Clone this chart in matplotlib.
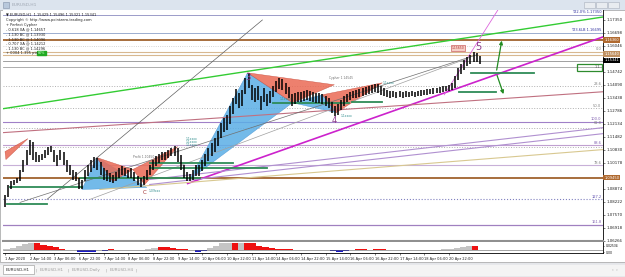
import numpy as np
import matplotlib.pyplot as plt
from matplotlib.patches import Rectangle, Polygon

W, H = 625, 277

# EURUSD 2-hour highs / lows
highs = [1.0855, 1.0905, 1.0925, 1.0935, 1.0945, 1.0985, 1.1035, 1.1085, 1.1135, 1.1125,
         1.1075, 1.1060, 1.1065, 1.1085, 1.1100, 1.1105, 1.1085, 1.1060, 1.1085, 1.1075,
         1.1035, 1.1010, 1.0985, 1.0975, 1.0945, 1.0935, 1.0985, 1.1010, 1.1035, 1.1050,
         1.1045, 1.1025, 1.0995, 1.0985, 1.0970, 1.0960, 1.0975, 1.0995, 1.1005, 1.0995,
         1.0985, 1.0995, 1.0975, 1.0955, 1.0945, 1.0955, 1.0985, 1.1010, 1.1035, 1.1055,
         1.1065, 1.1075, 1.1075, 1.1085, 1.1095, 1.1105, 1.1095, 1.1060, 1.1010, 1.0975,
         1.0965, 1.0985, 1.1010, 1.1010, 1.1035, 1.1065, 1.1095, 1.1120, 1.1145, 1.1180,
         1.1220, 1.1245, 1.1260, 1.1305, 1.1345, 1.1390, 1.1370, 1.1385, 1.1445, 1.1470,
         1.1410, 1.1395, 1.1405, 1.1355, 1.1395, 1.1365, 1.1380, 1.1405, 1.1430, 1.1445,
         1.1440, 1.1420, 1.1400, 1.1365, 1.1370, 1.1375, 1.1375, 1.1380, 1.1385, 1.1380,
         1.1375, 1.1370, 1.1370, 1.1365, 1.1355, 1.1345, 1.1325, 1.1305, 1.1315, 1.1335,
         1.1355, 1.1365, 1.1375, 1.1380, 1.1385, 1.1390, 1.1395, 1.1400, 1.1405, 1.1410,
         1.1415, 1.1415, 1.1405, 1.1395, 1.1385, 1.1380, 1.1380, 1.1375, 1.1380, 1.1375,
         1.1380, 1.1375, 1.1380, 1.1375, 1.1380, 1.1385, 1.1385, 1.1390, 1.1390, 1.1395,
         1.1395, 1.1400, 1.1405, 1.1405, 1.1410, 1.1420, 1.1455, 1.1495, 1.1515, 1.1535,
         1.1550, 1.1560, 1.1575, 1.1570, 1.1555]
lows = [1.0795, 1.0845, 1.0885, 1.0905, 1.0915, 1.0925, 1.0975, 1.1010, 1.1060, 1.1035,
        1.1025, 1.1025, 1.1035, 1.1045, 1.1060, 1.1075, 1.1025, 1.1005, 1.1035, 1.1010,
        1.0975, 1.0960, 1.0935, 1.0925, 1.0885, 1.0885, 1.0925, 1.0955, 1.0975, 1.0995,
        1.0985, 1.0960, 1.0935, 1.0925, 1.0920, 1.0915, 1.0925, 1.0945, 1.0960, 1.0955,
        1.0945, 1.0945, 1.0925, 1.0905, 1.0895, 1.0905, 1.0935, 1.0960, 1.0985, 1.1005,
        1.1020, 1.1035, 1.1035, 1.1045, 1.1055, 1.1055, 1.1025, 1.0985, 1.0945, 1.0925,
        1.0925, 1.0935, 1.0955, 1.0955, 1.0980, 1.1005, 1.1030, 1.1055, 1.1075, 1.1105,
        1.1145, 1.1175, 1.1185, 1.1215, 1.1265, 1.1315, 1.1295, 1.1305, 1.1365, 1.1395,
        1.1335, 1.1325, 1.1335, 1.1285, 1.1325, 1.1305, 1.1320, 1.1350, 1.1375, 1.1390,
        1.1385, 1.1365, 1.1345, 1.1305, 1.1315, 1.1325, 1.1325, 1.1330, 1.1335, 1.1330,
        1.1325, 1.1320, 1.1320, 1.1315, 1.1305, 1.1295, 1.1270, 1.1255, 1.1260, 1.1285,
        1.1305, 1.1325, 1.1335, 1.1345, 1.1345, 1.1350, 1.1355, 1.1360, 1.1365, 1.1370,
        1.1375, 1.1370, 1.1360, 1.1355, 1.1350, 1.1345, 1.1350, 1.1345, 1.1350, 1.1345,
        1.1350, 1.1350, 1.1355, 1.1350, 1.1355, 1.1355, 1.1360, 1.1360, 1.1365, 1.1365,
        1.1370, 1.1370, 1.1375, 1.1380, 1.1380, 1.1385, 1.1395, 1.1435, 1.1465, 1.1485,
        1.1505, 1.1515, 1.1525, 1.1525, 1.1515]
bar_hours = np.arange(len(highs)) * 2

# indicator (4-hour bins): grey area and red/blue histogram
ind_gray = [0.1, 0.3, 0.5, 0.8, 1.0, 0, 0, 0, 0, 0, 0, 0, 0, 0, 0, 0, 0, 0, 0, 0,
            0, 0, 0, 0.2, 0.3, 0.3, 0, 0, 0, 0, 0, 0, 0, 0.3, 0.6, 0.9, 1.0, 0, 1.0, 0,
            0, 0, 0, 0, 0, 0, 0, 0, 0, 0, 0, 0, 0, 0, 0, 0, 0, 0, 0, 0,
            0, 0, 0, 0, 0, 0, 0, 0, 0, 0, 0, 0.1, 0.2, 0.3, 0.45, 0.6, 0, 0]
ind_hist = [0, 0, 0, 0, 0, 1.0, 0.7, 0.5, 0.4, 0.1, 0, 0, -0.2, -0.3, -0.2, 0, -0.1, 0.1, 0.05, 0,
            0, 0, 0, 0, 0, 0.4, 0.4, 0.3, 0.2, 0.1, 0, -0.2, -0.1, 0, 0, 0, 0, 1.0, 0, 1.0,
            0.9, 0.6, 0.4, 0.3, 0.15, 0.2, 0.2, 0.05, 0, 0, 0, 0, 0, -0.15, -0.2, -0.1, 0, 0.2, 0.2, 0,
            0.15, 0.15, 0, 0, 0, 0, 0, 0, 0, 0, 0, 0, 0, 0, 0, 0, 0.6, 0]
ind_hours = np.arange(len(ind_gray)) * 4 - 1

price_ticks = [1.17350, 1.16698, 1.16046, 1.15394, 1.14742, 1.14090, 1.13438, 1.12786,
               1.12134, 1.11482, 1.10830, 1.10178, 1.09526, 1.08874, 1.08222, 1.07570,
               1.06918, 1.06266]
# labels hidden behind the coloured price boxes
hidden_ticks = [1.15394, 1.09526]
time_labels = ["1 Apr 2020", "2 Apr 14:00", "3 Apr 06:00", "6 Apr 22:00", "7 Apr 14:00",
               "8 Apr 06:00", "8 Apr 22:00", "9 Apr 14:00", "10 Apr 06:00", "10 Apr 22:00",
               "11 Apr 14:00", "14 Apr 06:00", "14 Apr 22:00", "15 Apr 14:00", "16 Apr 06:00",
               "16 Apr 22:00", "17 Apr 14:00", "18 Apr 06:00", "20 Apr 22:00"]

# chart objects: horizontal levels, trend lines (hour, price pairs)
level_prices = [1.1760, 1.1670, 1.1635, 1.1605, 1.1575, 1.1560, 1.1530, 1.1500, 1.1405,
                1.1295, 1.1225, 1.1195, 1.1110, 1.1100, 1.1010, 1.0945, 1.0835, 1.0705]
level_colors = ['#8c8cc0', '#8ca0c8', '#a0622d', '#c8c8c8', '#d8b890', '#d8b890', '#909090',
                '#a0a0a0', '#b0b0b0', '#b0b0b0', '#a080c8', '#b0b0b0', '#c0a0d0', '#b0b0b0',
                '#c8b0d8', '#a0622d', '#8080c0', '#a080c0']
level_styles = ['-', '-', '-', ':', '-', '-', '-', '-', ':', ':', '-', ':', '-', ':', '-', '-', ':', '-']
level_widths = [0.6, 0.6, 1.3, 0.6, 0.8, 0.8, 0.6, 0.6, 0.7, 0.7, 0.8, 0.7, 0.8, 0.7, 0.8, 1.3, 0.8, 0.9]

trend_lines = [
    ((-1.3, 1.1290), (388, 1.1750)),   # green channel
    ((118.5, 1.0915), (388, 1.1650)),  # magenta
    ((285, 1.1360), (320.6, 1.1795)),  # steep magenta
    ((-1.3, 1.1170), (388, 1.1375)),   # rosy
    ((61.5, 1.0885), (388, 1.1085)),   # tan
    ((93.9, 1.0935), (388, 1.1195)),   # lavender
    ((93.9, 1.0910), (388, 1.1165)),   # lavender
    ((9.7, 1.0820), (306, 1.1560)),    # grey to point 5
    ((55, 1.0835), (301, 1.1545)),     # grey to point 5
    ((27.2, 1.0835), (167, 1.1735)),   # grey steep
]
trend_colors = ['#33cc33', '#cc22cc', '#dd66dd', '#c07080', '#d8c890', '#b090d0', '#b090d0',
                '#707070', '#a0a0a0', '#606060']
trend_widths = [1.0, 1.2, 0.6, 0.8, 0.8, 0.8, 0.8, 0.5, 0.5, 0.5]

green_segments = [((302.5, 343.3), 1.1470), ((294.7, 318.7), 1.1375), ((225.4, 244.8), 1.1325),
                  ((94, 147.7), 1.1020), ((94, 169.7), 1.0995), ((48.6, 126.3), 1.0945),
                  ((3.2, 49.9), 1.0895), ((1.3, 27.2), 1.0810), ((173.6, 223.5), 1.1320)]

blue_tris = [[(49.9, 1.0885), (59.6, 1.1045), (92.0, 1.0895)],
             [(119.8, 1.0935), (157.4, 1.1470), (186.5, 1.1320)],
             [(186.5, 1.1320), (215.0, 1.1270), (206.0, 1.1360)]]
red_tris = [[(59.6, 1.1045), (69.9, 1.0925), (82.9, 1.0985)],
            [(82.9, 1.0985), (90.7, 1.0910), (112.0, 1.1100)],
            [(0.0, 1.1075), (14.9, 1.1140), (0.6, 1.1035)],
            [(157.4, 1.1470), (213.7, 1.1410), (186.5, 1.1320)],
            [(206.0, 1.1360), (215.0, 1.1270), (244.8, 1.1420)]]

fig = plt.figure(figsize=(6.25, 2.77), dpi=100)
fig.patch.set_facecolor('#eceef1')


def px_axes(x0, y0, x1, y1):
    return fig.add_axes([x0 / W, 1 - y1 / H, (x1 - x0) / W, (y1 - y0) / H])


def px_rect(x0, y0, x1, y1, **kw):
    fig.add_artist(Rectangle((x0 / W, 1 - y1 / H), (x1 - x0) / W, (y1 - y0) / H,
                             transform=fig.transFigure, **kw))


def px_text(x, y, s, **kw):
    fig.text(x / W, 1 - y / H, s, **kw)


# window chrome
px_rect(0, 0, 625, 10, color='#dce4ee', zorder=0)
px_rect(3, 2, 9, 8, facecolor='#b8c8dc', edgecolor='#8090a8', lw=0.4)
px_text(12, 5, 'EURUSD,H1', fontsize=3.2, color='#a0a8b4', va='center')
for bx in (584, 596, 608):
    px_rect(bx, 2, bx + 11, 8, facecolor='#e8ecf0', edgecolor='#a8b0bc', lw=0.4)
px_rect(0, 262, 625, 277, color='#e4e6ea', zorder=0)
px_rect(0, 265, 625, 275, color='#f4f4f4', zorder=0)
px_rect(3, 265, 34, 274, facecolor='white', edgecolor='#909090', lw=0.4)
tab_names = ['EURUSD,H1', 'EURUSD,H1', 'EURUSD,Daily', 'EURUSD,H4']
tab_x = [6, 40, 72, 110]
for tx, name in zip(tab_x, tab_names):
    px_text(tx, 270, name, fontsize=3, color='#303030' if tx == 6 else '#a0a0a0', va='center')
for sx in (36, 68, 106, 136):
    px_text(sx, 270, '|', fontsize=3, color='#a0a0a0', va='center')
px_text(612, 270, '‹  ›', fontsize=3, color='#808080', va='center')
px_rect(0, 10, 625, 262, facecolor='white', edgecolor='#a0a0a0', lw=0.5, zorder=0)

# main price chart
ax = px_axes(3, 10, 603, 241)
ax.set_xlim(-1.3, 388)
ax.set_ylim(1.1835 - 241 / 2000, 1.1835 - 10 / 2000)
ax.set_facecolor('white')

for p, c, ls, lw in zip(level_prices, level_colors, level_styles, level_widths):
    ax.axhline(p, color=c, ls=ls, lw=lw, zorder=1)

for tri in blue_tris:
    ax.add_patch(Polygon(tri, closed=True, facecolor='#5aaee6', edgecolor='#3c8cd0', lw=0.3, alpha=0.85, zorder=2))
for tri in red_tris:
    ax.add_patch(Polygon(tri, closed=True, facecolor='#ea6a55', edgecolor='#c04030', lw=0.3, alpha=0.85, zorder=2))

for ((x0, y0), (x1, y1)), c, lw in zip(trend_lines, trend_colors, trend_widths):
    ax.plot([x0, x1], [y0, y1], color=c, lw=lw, zorder=3)

for (x0, x1), p in green_segments:
    ax.plot([x0, x1], [p, p], color='#2e8b57', lw=1.3, zorder=3)

ax.vlines(bar_hours, lows, highs, color='black', lw=1.1, zorder=4)

# green projection arrows
ax.annotate('', xy=(322.6, 1.1645), xytext=(318.7, 1.1470),
            arrowprops=dict(arrowstyle='-|>', color='#228b22', lw=0.9, mutation_scale=5))
ax.annotate('', xy=(324.0, 1.1350), xytext=(318.7, 1.1470),
            arrowprops=dict(arrowstyle='-|>', color='#228b22', lw=0.9, mutation_scale=5))
ax.add_patch(Rectangle((371.1, 1.1480), 16.2, 0.0035, fill=False, edgecolor='#2e8b2e', lw=0.9, zorder=5))
ax.text(386, 1.1497, '1.1', fontsize=2.5, color='#505050', ha='right', va='center', zorder=6)

# pattern labels
ax.text(157.4, 1.1445, '3', fontsize=6, color='#8b3a8b', ha='center', va='center', zorder=6)
ax.text(213.7, 1.1230, '4', fontsize=6, color='#8b3a8b', ha='center', va='center', zorder=6)
ax.text(307.0, 1.1600, '5', fontsize=7, color='#8b3a8b', ha='center', va='center', zorder=6)
ax.text(90.7, 1.0870, 'C', fontsize=4, color='#a03030', ha='center', va='center', zorder=6)
ax.text(93, 1.0875, '1.09xxx', fontsize=2.2, color='#2a8a8a', ha='left', va='center', zorder=6)
for tx, ty in [(117, 1.1140), (117, 1.1125), (117, 1.1110), (245, 1.1420), (218, 1.1255), (178, 1.1340)]:
    ax.text(tx, ty, '1.1xxxx', fontsize=2.2, color='#2a8a8a', ha='left', va='center', zorder=6)
ax.text(83, 1.1050, 'Profit 1.10450', fontsize=2.2, color='#707070', ha='left', va='center', zorder=6)
ax.text(210, 1.1445, 'Cypher 1.14545', fontsize=2.2, color='#707070', ha='left', va='center', zorder=6)
ax.text(294, 1.1595, '1.15650', fontsize=2.2, color='#b03030', ha='center', va='center', zorder=6,
        bbox=dict(boxstyle='square,pad=0.25', facecolor='#f6d0c8', edgecolor='#c04040', lw=0.4))

# fibo / target labels on the right edge
fib_texts = ['0.0', '23.6', '50.0', '100.0', '61.8', '88.6', '78.6', '127.2', '161.8']
fib_prices = [1.1590, 1.1412, 1.1302, 1.1237, 1.1217, 1.1117, 1.1017, 1.0847, 1.0722]
fib_colors = ['#808080', '#808080', '#808080', '#8060b0', '#808080', '#8060b0', '#808080', '#6050b0', '#8060b0']
for t, p, c in zip(fib_texts, fib_prices, fib_colors):
    ax.text(387, p, t, fontsize=2.6, color=c, ha='right', va='center', zorder=6)
ax.text(387, 1.1775, 'T22.0% 1.17350', fontsize=2.6, color='#3030a0', ha='right', va='center', zorder=6)
ax.text(387, 1.1685, 'T23.6LB 1.16695', fontsize=2.6, color='#3030a0', ha='right', va='center', zorder=6)

# info block top-left
info_lines = ['▼ EURUSD,H1  1.15429 1.15496 1.15321 1.15341',
              'Copyright © http://www.pointzero-trading.com',
              '+ Perfect Cypher',
              '- 0.618 XA @ 1.14657',
              '- 1.130 BC @ 1.13930',
              '- 1.130 BC @ 1.14096',
              '- 0.707 XA @ 1.14212',
              '- 1.130 BC @ 1.14296',
              '+ 0004 1.395 pts']
for k, line in enumerate(info_lines):
    px_text(6, 15 + 4.8 * k, line, fontsize=2.6, color='#202020', va='center', zorder=7)
px_rect(37, 51, 46, 55, color='#22aa22', zorder=6)
px_text(38, 53, '80%', fontsize=2.4, color='#d0ffd0', va='center', zorder=7)

# price axis
ax.yaxis.tick_right()
ax.set_yticks(price_ticks)
ax.set_yticklabels(['' if v in hidden_ticks else '%.5f' % v for v in price_ticks])
ax.tick_params(axis='y', labelsize=2.8, length=1.5, width=0.4, pad=1, colors='#202020')
ax.set_xticks([])
for side in ('top', 'left'):
    ax.spines[side].set_visible(False)
ax.spines['right'].set_linewidth(0.6)
ax.spines['bottom'].set_color('#909090')
ax.spines['bottom'].set_linewidth(1.5)

# price boxes on the axis
for p, s, fc, tc in [(1.1635, '1.16360', '#b06a30', 'white'), (1.1565, '1.15640', '#c09060', 'white'),
                     (1.1532, '1.15341', 'black', 'white'), (1.0945, '1.09450', '#b06a30', 'white')]:
    ax.text(1.002, p, s, transform=ax.get_yaxis_transform(), fontsize=2.6, color=tc, ha='left', va='center',
            zorder=8, clip_on=False, bbox=dict(boxstyle='square,pad=0.2', facecolor=fc, edgecolor='none'))

# indicator window
ax2 = px_axes(3, 242, 603, 253)
ax2.set_xlim(-1.3, 388)
ax2.set_ylim(-0.4, 1.07)
ax2.fill_between(ind_hours, 0, ind_gray, step='post', color='#c4c4c4', lw=0)
hist = np.array(ind_hist)
ax2.bar(ind_hours, np.clip(hist, 0, None), width=4, align='edge', color='#ee1111', lw=0)
ax2.bar(ind_hours, np.clip(hist, None, 0), width=4, align='edge', color='#1a1acc', lw=0)
ax2.axhline(0, color='#606060', lw=0.4)
ax2.set_xticks(np.arange(len(time_labels)) * 16)
ax2.set_xticklabels(time_labels, ha='left')
ax2.tick_params(axis='x', labelsize=2.6, length=1.5, width=0.4, pad=1.5, colors='#202020')
ax2.yaxis.tick_right()
ax2.set_yticks([0.55, -0.3])
ax2.set_yticklabels(['0.02534', '0.00'])
ax2.tick_params(axis='y', labelsize=2.2, length=1, width=0.4, pad=1)
for side in ('top', 'left'):
    ax2.spines[side].set_visible(False)
ax2.spines['right'].set_linewidth(0.6)
ax2.spines['bottom'].set_linewidth(0.6)

fig.savefig('out.png', dpi=100)
